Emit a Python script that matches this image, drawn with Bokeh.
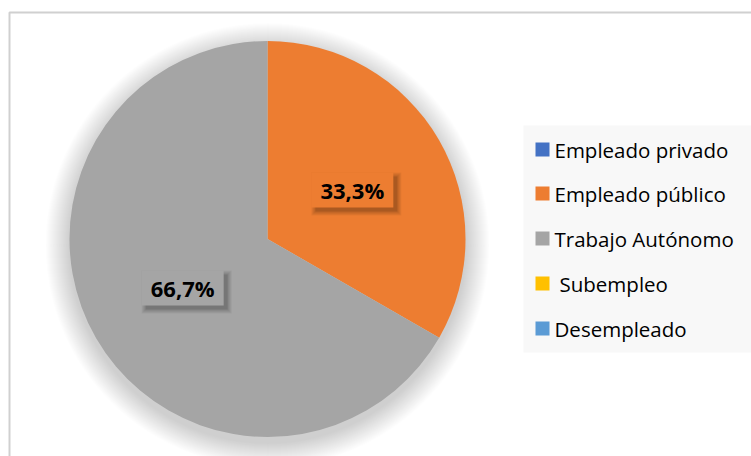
import numpy as np
from bokeh.plotting import figure
from bokeh.models import Range1d
from bokeh.core.properties import value
from bokeh.embed import file_html
from bokeh.resources import INLINE

# ---- data ----
categories = ["Empleado privado", "Empleado público", "Trabajo Autónomo", " Subempleo", "Desempleado"]
percentages = [0.0, 33.3, 66.7, 0.0, 0.0]
colors = ["#4472C4", "#ED7D31", "#A5A5A5", "#FFC000", "#5B9BD5"]

W, H = 751, 456
FONT = "Open Sans"


def fx(X):
    return X


def fy(Y):
    return H - Y


p = figure(width=W, height=H, x_range=Range1d(0, W), y_range=Range1d(0, H),
           output_backend="svg", toolbar_location=None, min_border=0,
           x_axis_location=None, y_axis_location=None, outline_line_color=None)
p.grid.visible = False
p.background_fill_color = "white"
p.border_fill_color = "white"

# chart frame
p.quad(left=[fx(9)], right=[fx(9) + 900], top=[fy(12)], bottom=[-60],
       fill_color=None, line_color="#d0d0d0", line_width=2)

# pie geometry
cx, cy, R = fx(267), fy(238.5), 198.0

# soft pie shadow
for k in range(24, 0, -1):
    p.circle(x=[cx], y=[cy - 6], radius=R + k, fill_color="black",
             fill_alpha=0.0075, line_color=None)

vals = np.array(percentages, dtype=float)
total = vals.sum()
cum = np.cumsum(vals)
start = np.pi / 2 - 2 * np.pi * (cum - vals) / total
end = np.pi / 2 - 2 * np.pi * cum / total

for i in range(len(vals)):
    if vals[i] <= 0:
        continue
    p.wedge(x=[cx], y=[cy], radius=R, start_angle=[start[i]], end_angle=[end[i]],
            direction="clock", fill_color=colors[i], line_color=None)

# data labels
bw, bh = 82, 35
for i in range(len(vals)):
    if vals[i] <= 0:
        continue
    mid = (start[i] + end[i]) / 2
    lx = cx + 0.495 * R * np.cos(mid)
    ly = cy + 0.495 * R * np.sin(mid)
    # soft shadow toward bottom-right
    for k in range(4, 0, -1):
        p.rect(x=[lx + 4], y=[ly - 4], width=bw + 2 * k, height=bh + 2 * k,
               fill_color="black", fill_alpha=0.05, line_color=None)
    p.rect(x=[lx + 4], y=[ly - 4], width=bw, height=bh,
           fill_color="black", fill_alpha=0.1, line_color=None)
    p.rect(x=[lx], y=[ly], width=bw, height=bh, fill_color=colors[i], line_color=None)
    txt = f"{vals[i]:.1f}".replace(".", ",") + "%"
    p.text(x=[lx], y=[ly], text=[txt], text_font=value(FONT), text_font_style="bold",
           text_font_size="22px", text_color="black", text_align="center",
           text_baseline="middle")

# legend
p.quad(left=[fx(523)], right=[fx(523) + 400], top=[fy(125)], bottom=[fy(352)],
       fill_color="#f8f8f8", line_color=None)
ys = [149, 193, 238, 283, 328]
for i, cat in enumerate(categories):
    p.rect(x=[fx(542)], y=[fy(ys[i])], width=14, height=14, fill_color=colors[i], line_color=None)
    shift = 5 if cat.startswith(" ") else 0
    p.text(x=[fx(554 + shift)], y=[fy(ys[i])], text=[cat.strip()], text_font=value(FONT),
           text_font_size="20.5px", text_color="black", text_align="left",
           text_baseline="middle")

open("out.html", "w").write(file_html(p, INLINE))
